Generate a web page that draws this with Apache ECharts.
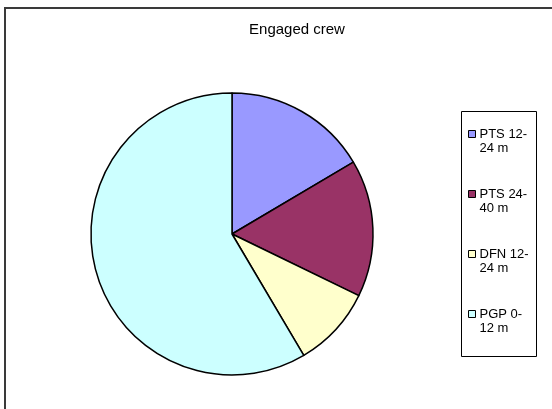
<!DOCTYPE html>
<html>
<head>
<meta charset="utf-8">
<script src="https://cdn.jsdelivr.net/npm/echarts@6/dist/echarts.min.js"></script>
<style>
  html, body { margin: 0; padding: 0; background: #fff; }
  #chart { width: 552px; height: 409px; }
</style>
</head>
<body>
<div id="chart"></div>
<script>
// Crew engaged per fleet segment (share of total)
const titleText = 'Engaged crew';
const categories = ['PTS 12-24 m', 'PTS 24-40 m', 'DFN 12-24 m', 'PGP 0-12 m'];
const legendLines = {
  'PTS 12-24 m': ['PTS 12-', '24 m'],
  'PTS 24-40 m': ['PTS 24-', '40 m'],
  'DFN 12-24 m': ['DFN 12-', '24 m'],
  'PGP 0-12 m': ['PGP 0-', '12 m']
};
const values = [16.5, 15.7, 9.3, 58.5];
const colors = ['#9999FF', '#993366', '#FFFFCC', '#CCFFFF'];

const chart = echarts.init(document.getElementById('chart'), null, { renderer: 'canvas' });

const font = '"Liberation Sans", Arial, sans-serif';

chart.setOption({
  animation: false,
  backgroundColor: '#ffffff',
  title: {
    text: titleText,
    left: 292,
    top: 17,
    textAlign: 'center',
    textStyle: { fontFamily: font, fontSize: 15, fontWeight: 'normal', color: '#000' }
  },
  legend: {
    orient: 'vertical',
    left: 468,
    top: 113,
    padding: 0,
    itemGap: 18,
    itemWidth: 7,
    itemHeight: 7,
    icon: 'rect',
    selectedMode: false,
    data: categories,
    // a leading blank line keeps the first text line level with the swatch
    formatter: name => '\n' + legendLines[name].join('\n'),
    textStyle: {
      fontFamily: font,
      fontSize: 13,
      lineHeight: 14,
      color: '#000',
      padding: [0, 0, 0, -1]
    },
    itemStyle: { borderColor: '#000', borderWidth: 1 }
  },
  graphic: [
    {
      type: 'rect',
      silent: true,
      shape: { x: 5, y: 8, width: 560, height: 420 },
      style: { fill: 'none', stroke: '#3a3a3a', lineWidth: 2 }
    },
    {
      type: 'rect',
      silent: true,
      shape: { x: 461.5, y: 111.5, width: 75, height: 245 },
      style: { fill: 'none', stroke: '#000', lineWidth: 1 }
    }
  ],
  series: [{
    type: 'pie',
    center: [232, 234],
    radius: 141,
    startAngle: 90,
    clockwise: true,
    label: { show: false },
    labelLine: { show: false },
    emphasis: { disabled: true },
    itemStyle: { borderColor: '#000', borderWidth: 1.5 },
    data: categories.map((c, i) => ({
      name: c,
      value: values[i],
      itemStyle: { color: colors[i] }
    }))
  }]
});
</script>
</body>
</html>
